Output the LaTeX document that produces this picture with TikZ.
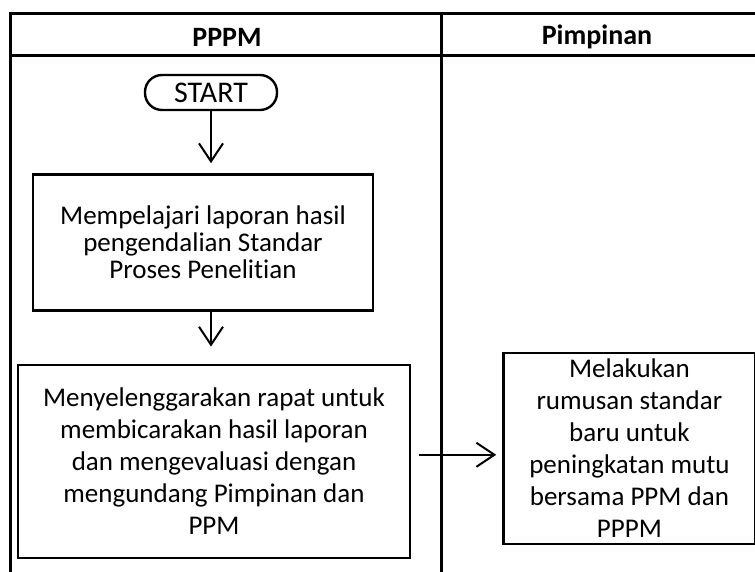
\documentclass[tikz,border=0pt]{standalone}
\usepackage{fontspec}
\setmainfont{Carlito}[Ligatures=NoCommon]
\usetikzlibrary{
  arrows.meta,
  positioning
}

\begin{document}
\begin{tikzpicture}[
  x=1pt, y=-1pt,
  every node/.style={font=\fontsize{27}{32}\selectfont},
  lane/.style={line width=3pt},
  head/.style={font=\fontsize{28}{32}\selectfont\bfseries},
  term/.style={draw, line width=2.4pt, rounded corners=17pt, minimum width=132pt, minimum height=35pt, inner sep=0pt,
               font=\fontsize{30}{32}\selectfont},
  stepbox/.style={draw, line width=2.4pt, align=center, inner sep=0pt},
  ar/.style={-{Straight Barb[length=18pt,width=24pt,line width=2pt]}, line width=2pt}
]
  \useasboundingbox (0,0) rectangle (755,572);
  % swimlane frame
  \draw[lane] (755,14) -- (10,14) -- (10,572);
  \draw[lane] (10,56) -- (755,56);
  \draw[lane] (441,14) -- (441,572);
  \node[head] (pppm) at (227,37) {PPPM};
  \node[head] (pimp) at (597,37) {Pimpinan};

  % PPPM lane
  \node[term] (start) at (211,92.5) {START};
  \node[stepbox, below=62pt of start, xshift=-8pt, minimum width=340pt, minimum height=136pt,
        font=\fontsize{27}{27}\selectfont] (lapor)
       {Mempelajari laporan hasil\\pengendalian Standar\\Proses Penelitian};
  \node[stepbox, below=52pt of lapor, xshift=11pt, minimum width=392pt, minimum height=193pt] (rapat)
       {Menyelenggarakan rapat untuk\\membicarakan hasil laporan\\dan mengevaluasi dengan\\mengundang Pimpinan dan\\PPM};

  % Pimpinan lane
  \node[stepbox, right=91pt of rapat, yshift=13pt, minimum width=252pt, minimum height=191pt] (rumus)
       {Melakukan\\rumusan standar\\baru untuk\\peningkatan mutu\\bersama PPM dan\\PPPM};

  \draw[ar] (start.south) -- ([yshift=10pt]lapor.north -| start.south);
  \draw[ar] (lapor.south -| start.south) -- ([yshift=17pt]rapat.north -| start.south);
  \draw[ar] ([xshift=8pt,yshift=6.5pt]rapat.east) -- ([xshift=-6pt,yshift=6.5pt]rapat.east -| rumus.west);

\end{tikzpicture}
\end{document}
